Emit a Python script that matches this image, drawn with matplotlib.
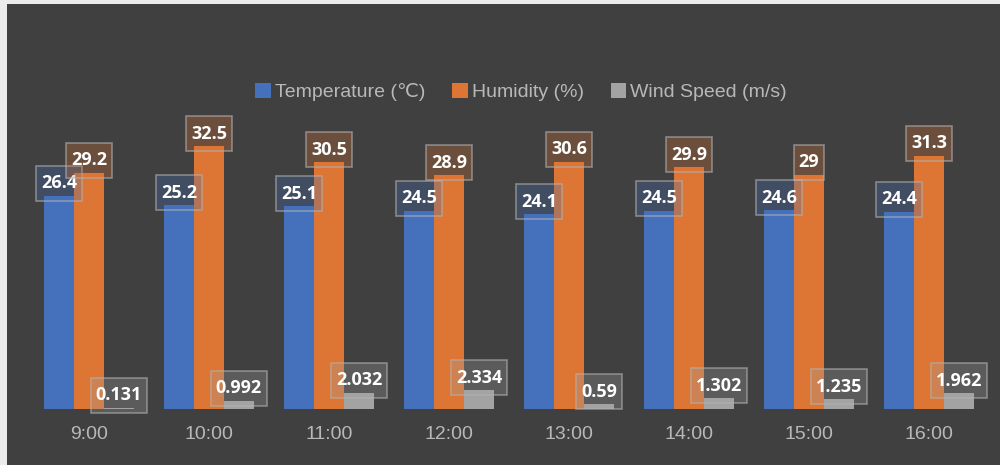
import numpy as np
import matplotlib.pyplot as plt
from matplotlib.colors import to_rgb
from matplotlib.path import Path
from matplotlib.patches import Rectangle

# hourly readings
hours = ['9:00', '10:00', '11:00', '12:00', '13:00', '14:00', '15:00', '16:00']
temperature = [26.4, 25.2, 25.1, 24.5, 24.1, 24.5, 24.6, 24.4]
humidity = [29.2, 32.5, 30.5, 28.9, 30.6, 29.9, 29, 31.3]
wind_speed = [0.131, 0.992, 2.032, 2.334, 0.59, 1.302, 1.235, 1.962]
series_names = ['Temperature (\u2103)', 'Humidity (%)', 'Wind Speed (m/s)']

colors = ['#4470BC', '#DD7634', '#A3A3A3']
bg = '#404040'
txt_gray = '#B8B8B8'
sans = ['Liberation Sans', 'DejaVu Sans']


def label_box(x0, y0, width, height, mutation_size):
    # tall box around the value text (pixel units)
    padx = 5
    h = 35
    cy = y0 + height / 2
    l, r = x0 - padx, x0 + width + padx
    b, t = cy - h / 2, cy + h / 2
    return Path([(l, b), (r, b), (r, t), (l, t), (l, b)], closed=True)


fig = plt.figure(figsize=(10, 4.65), dpi=100, facecolor='#ececec')
fig.patches.append(Rectangle((0.007, 0), 0.993, 0.991, transform=fig.transFigure,
                             facecolor=bg, edgecolor='none', zorder=-1))

ax = fig.add_axes([0.029, 56 / 465, 0.96, 283 / 465])
ax.patch.set_alpha(0)

x = np.arange(len(hours))
w = 0.25
data = [temperature, humidity, wind_speed]
for i, (vals, c) in enumerate(zip(data, colors)):
    pos = x + (i - 1) * w
    ax.bar(pos, vals, width=w, color=c, label=series_names[i], zorder=2)
    for xp, v in zip(pos, vals):
        t = ax.annotate('{:g}'.format(v), (xp, v), xytext=(0, 9), textcoords='offset points',
                        ha='center', va='center', color='white', fontsize=13,
                        fontweight='bold', family='Open Sans', zorder=4,
                        bbox=dict(boxstyle=label_box, facecolor='none',
                                  edgecolor=(0.7, 0.7, 0.7, 0.6), linewidth=1.2))
        # translucent fill, solid edge
        t.get_bbox_patch().set_facecolor((*to_rgb(c), 0.28))

ax.set_xlim(-0.5, len(hours) - 0.5)
ax.set_ylim(0, 35)
ax.set_xticks(x)
ax.set_xticklabels(hours, color=txt_gray, fontsize=14, family=sans)
ax.tick_params(axis='x', length=0, pad=12)
ax.set_yticks([])
for s in ax.spines.values():
    s.set_visible(False)

fig.legend(loc='center', bbox_to_anchor=(0.521, 0.802), ncol=3, frameon=False,
           prop={'family': sans, 'size': 14}, labelcolor=txt_gray,
           handlelength=0.8, handleheight=0.8, handletextpad=0.2, columnspacing=1.4)

fig.savefig('out.png', dpi=100, facecolor=fig.get_facecolor())
